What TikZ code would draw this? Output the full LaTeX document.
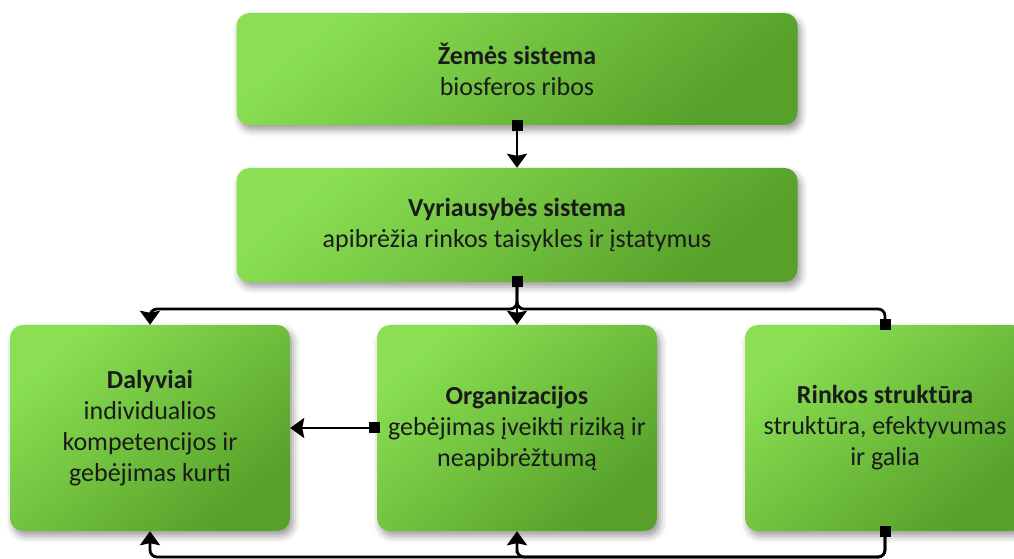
\documentclass[tikz,border=0pt]{standalone}
\usepackage{fontspec}
\setmainfont{Carlito}
\usepackage{tikz}
\usetikzlibrary{arrows.meta,shadows.blur}
\definecolor{GLight}{HTML}{8AE052}
\definecolor{GDark}{HTML}{57A02A}
\definecolor{TxtGray}{HTML}{1A1A1A}
\tikzset{box/.style={rounded corners=13pt, draw=none,
  top color=GLight, bottom color=GDark, shading angle=40,
  blur shadow={shadow xshift=3pt, shadow yshift=-5pt, shadow blur radius=7pt, shadow opacity=40},
  inner sep=0pt, align=center, text=TxtGray,
  font=\fontsize{26}{31}\selectfont}}
\tikzset{conn/.style={line width=2.8pt, rounded corners=7pt,
  {Square[length=11pt,width=11pt]}-{Stealth[length=14pt,width=20pt,inset=2pt]}}}
\tikzset{link/.style={line width=2.8pt, rounded corners=7pt,
  {Square[length=11pt,width=11pt]}-{Square[length=11pt,width=11pt]}}}

\begin{document}
\begin{tikzpicture}[x=1pt,y=1pt]
\useasboundingbox (0,0) rectangle (1014,559);

\node[box, minimum width=561pt, minimum height=112pt] (zemes) at (517,490)
  {\textbf{Žemės sistema}\\biosferos ribos};
\node[box, minimum width=561pt, minimum height=114pt] (vyr) at (517,334)
  {\textbf{Vyriausybės sistema}\\apibrėžia rinkos taisykles ir įstatymus};
\node[box, minimum width=280pt, minimum height=206pt] (dal) at (150,131)
  {\textbf{Dalyviai}\\individualios\\kompetencijos ir\\gebėjimas kurti};
\node[box, minimum width=280pt, minimum height=206pt] (org) at (517,131)
  {\textbf{Organizacijos}\\gebėjimas įveikti riziką ir\\neapibrėžtumą};
\node[box, minimum width=280pt, minimum height=206pt] (rink) at (885,131)
  {\textbf{Rinkos struktūra}\\struktūra, efektyvumas\\ir galia};

\coordinate (top bus) at (517,250);
\coordinate (low bus) at (517,2);

\draw[conn] ([yshift=5pt]zemes.south) -- (vyr.north);
\draw[conn] ([yshift=6pt]vyr.south) -- (org.north);
\draw[conn] ([yshift=6pt]vyr.south) |- (top bus) -| (dal.north);
\draw[link] ([yshift=6pt]vyr.south) |- (top bus) -| ([yshift=-5pt]rink.north);

\draw[conn] ([xshift=3pt]org.west) -- (dal.east);

\draw[conn] ([yshift=5pt]rink.south) |- (low bus) -| (org.south);
\draw[conn] ([yshift=5pt]rink.south) |- (low bus) -| (dal.south);
\end{tikzpicture}
\end{document}
